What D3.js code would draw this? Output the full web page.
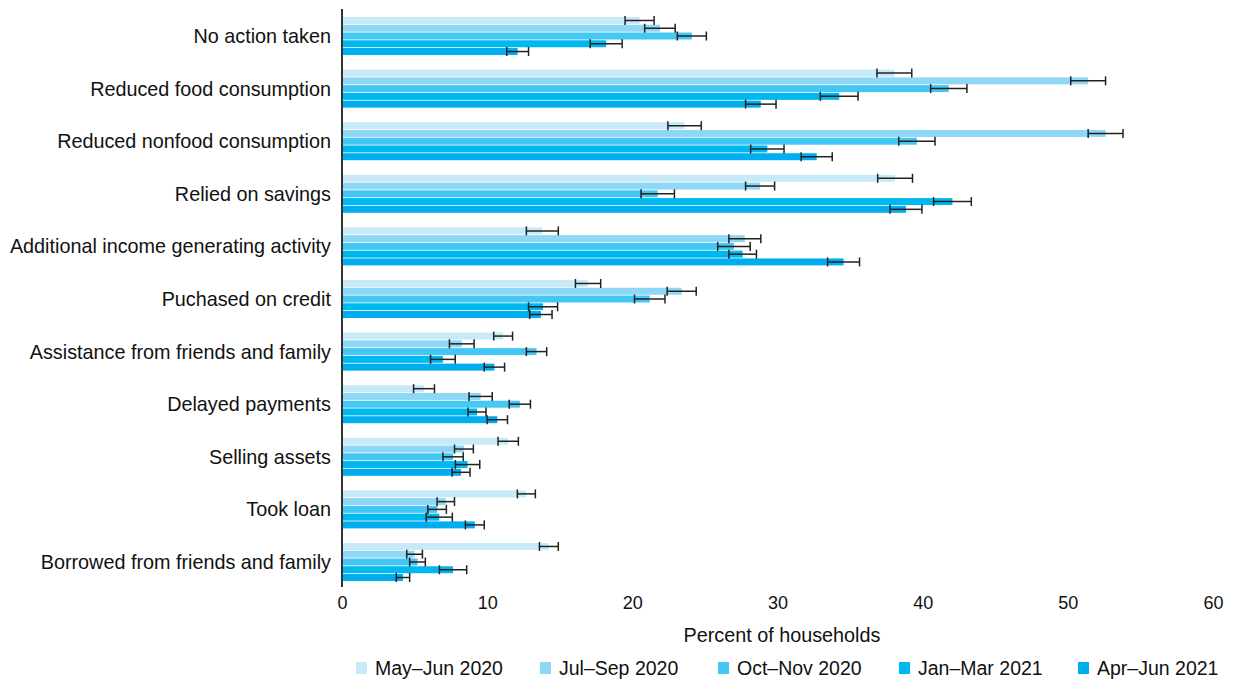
<!DOCTYPE html>
<html>
<head>
<meta charset="utf-8">
<script src="https://cdn.jsdelivr.net/npm/d3@7"></script>
<style>
  body { margin: 0; background: #fff; }
  text { font-family: "Liberation Sans", Arial, sans-serif; fill: #111; }
</style>
</head>
<body>
<script>

const categories = [
    'No action taken',
    'Reduced food consumption',
    'Reduced nonfood consumption',
    'Relied on savings',
    'Additional income generating activity',
    'Puchased on credit',
    'Assistance from friends and family',
    'Delayed payments',
    'Selling assets',
    'Took loan',
    'Borrowed from friends and family'
]

const periods = ['May–Jun 2020', 'Jul–Sep 2020', 'Oct–Nov 2020', 'Jan–Mar 2021', 'Apr–Jun 2021']

// percent of households, one array per survey round
const mayJun2020 = [20.5, 38.05, 23.6, 38.1, 13.8, 16.95, 11.1, 5.65, 11.45, 12.7, 14.25]
const julSep2020 = [21.9, 51.4, 52.6, 28.8, 27.75, 23.4, 8.25, 9.55, 8.4, 7.15, 5.0]
const octNov2020 = [24.1, 41.8, 39.6, 21.75, 27.0, 21.2, 13.4, 12.25, 7.65, 6.55, 5.2]
const janMar2021 = [18.2, 34.25, 29.3, 42.05, 27.6, 13.85, 6.95, 9.3, 8.65, 6.7, 7.65]
const aprJun2021 = [12.1, 28.85, 32.7, 38.85, 34.55, 13.7, 10.5, 10.7, 8.2, 9.15, 4.2]

// half-width of the error bars
const errMayJun2020 = [1.0, 1.2, 1.15, 1.2, 1.1, 0.87, 0.65, 0.72, 0.7, 0.62, 0.65]
const errJulSep2020 = [1.05, 1.2, 1.2, 1.0, 1.1, 1.0, 0.85, 0.8, 0.65, 0.6, 0.54]
const errOctNov2020 = [1.0, 1.25, 1.25, 1.15, 1.12, 1.05, 0.7, 0.73, 0.7, 0.64, 0.54]
const errJanMar2021 = [1.1, 1.3, 1.15, 1.3, 0.95, 1.0, 0.85, 0.62, 0.84, 0.9, 0.94]
const errAprJun2021 = [0.75, 1.05, 1.07, 1.1, 1.1, 0.77, 0.7, 0.7, 0.62, 0.65, 0.46]

const xTicks = [0, 10, 20, 30, 40, 50, 60]

const colors = ['#c8e9f8', '#8ed8f6', '#45c7f4', '#00b8f0', '#00adee']

const values = [mayJun2020, julSep2020, octNov2020, janMar2021, aprJun2021]
const errors = [errMayJun2020, errJulSep2020, errOctNov2020, errJanMar2021, errAprJun2021]

const rows = []
categories.forEach((c, i) => {
    periods.forEach((p, j) => {
        rows.push({ cat: c, period: p, value: values[j][i], err: errors[j][i] })
    })
})

const width = 1237, height = 683

const svg = d3.select('body')
    .append('svg')
    .attr('width', width)
    .attr('height', height)

const x = d3.scaleLinear()
    .domain([0, 60])
    .range([342, 1213])

const y = d3.scaleBand()
    .domain(categories)
    .range([17, 581])
    .paddingInner(0.277)
    .paddingOuter(0)

const yInner = d3.scaleBand()
    .domain(periods)
    .range([0, y.bandwidth()])
    .paddingInner(0.1)

const color = d3.scaleOrdinal()
    .domain(periods)
    .range(colors)

// bars
svg.append('g')
    .selectAll('rect')
    .data(rows)
    .join('rect')
    .attr('x', x(0))
    .attr('y', d => y(d.cat) + yInner(d.period))
    .attr('width', d => x(d.value) - x(0))
    .attr('height', yInner.bandwidth())
    .attr('fill', d => color(d.period))

// error bars
const eb = svg.append('g')
    .attr('stroke', '#222')
    .attr('stroke-width', 1.5)
    .selectAll('g')
    .data(rows)
    .join('g')
    .attr('transform', d => `translate(0,${y(d.cat) + yInner(d.period) + yInner.bandwidth() / 2})`)

eb.append('line')
    .attr('x1', d => x(d.value - d.err))
    .attr('x2', d => x(d.value + d.err))

eb.append('line')
    .attr('x1', d => x(d.value - d.err))
    .attr('x2', d => x(d.value - d.err))
    .attr('y1', -4.5)
    .attr('y2', 4.5)

eb.append('line')
    .attr('x1', d => x(d.value + d.err))
    .attr('x2', d => x(d.value + d.err))
    .attr('y1', -4.5)
    .attr('y2', 4.5)

// y axis: line plus category labels
svg.append('line')
    .attr('x1', x(0))
    .attr('x2', x(0))
    .attr('y1', 9)
    .attr('y2', 587)
    .attr('stroke', '#333')
    .attr('stroke-width', 2)

svg.append('g')
    .selectAll('text')
    .data(categories)
    .join('text')
    .attr('x', 331)
    .attr('y', d => y(d) + y.bandwidth() / 2)
    .attr('dy', '0.35em')
    .attr('text-anchor', 'end')
    .attr('font-size', 19.8)
    .text(d => d)

// x axis, labels only
const xAxis = svg.append('g')
    .attr('transform', 'translate(0,596)')
    .call(d3.axisBottom(x).tickValues(xTicks).tickSize(0).tickPadding(0))

xAxis.select('.domain').remove()
xAxis.selectAll('text')
    .attr('font-size', 18)
    .attr('font-family', '"Liberation Sans", Arial, sans-serif')
    .attr('fill', '#111')

svg.append('text')
    .attr('x', 782)
    .attr('y', 642)
    .attr('text-anchor', 'middle')
    .attr('font-size', 19.8)
    .text('Percent of households')

// legend
const legendX = [375, 559, 737, 918, 1097]

const legend = svg.append('g')
    .selectAll('g')
    .data(periods)
    .join('g')
    .attr('transform', (d, i) => `translate(${legendX[i]},668)`)

legend.append('rect')
    .attr('x', -19)
    .attr('y', -6)
    .attr('width', 11)
    .attr('height', 12)
    .attr('fill', d => color(d))

legend.append('text')
    .attr('dy', '0.35em')
    .attr('font-size', 19.5)
    .text(d => d)

</script>
</body>
</html>
